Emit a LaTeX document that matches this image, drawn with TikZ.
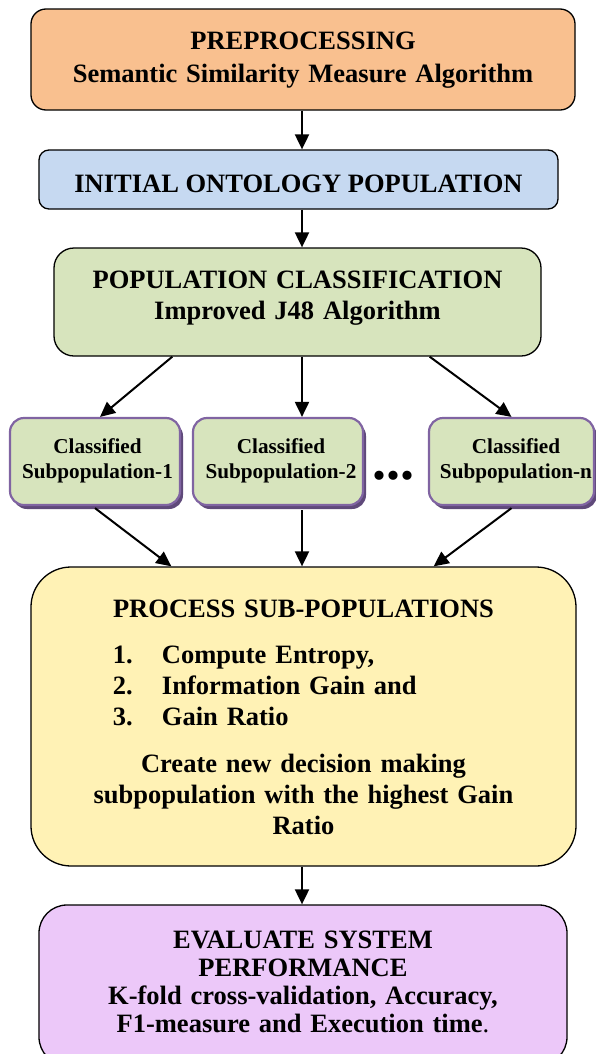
\documentclass[tikz,border=0pt]{standalone}
\usepackage{fontspec}
\setmainfont{Liberation Serif}
\usetikzlibrary{arrows.meta,shadows,calc}
\definecolor{orangeF}{HTML}{F9C08F}
\definecolor{blueF}{HTML}{C6D9F1}
\definecolor{greenF}{HTML}{D7E4BD}
\definecolor{yellowF}{HTML}{FFF2B5}
\definecolor{violetF}{HTML}{ECC8F9}
\definecolor{purpleB}{HTML}{8064A2}
\definecolor{purpleS}{HTML}{5F497A}
\begin{document}
\begin{tikzpicture}[x=1bp,y=-1bp,
  box/.style={draw=black, line width=1.3bp, rectangle, inner sep=0pt},
  mainfont/.style={font=\bfseries\fontsize{26.5bp}{#1}\selectfont},
  subbox/.style={draw=purpleB, line width=2.2bp, fill=greenF, rounded corners=14bp,
    minimum width=170bp, minimum height=87bp, inner sep=0pt, text width=165bp, align=center,
    font=\bfseries\fontsize{21.2bp}{25bp}\selectfont, text height=0bp, text depth=17bp,
    general shadow={fill=purpleS, shadow xshift=3bp, shadow yshift=-4bp}},
  arr/.style={line width=2bp, -{Triangle[length=15bp,width=14bp]}}
]
\useasboundingbox (0,0) rectangle (596,1054);
\coordinate (spine) at (302,0);

\node[box, mainfont=33bp, fill=orangeF, rounded corners=15bp, minimum width=544bp, minimum height=101bp,
  text width=530bp, align=center, text height=0bp, text depth=21bp] (box1) at (303,59.5)
  {PREPROCESSING\\Semantic Similarity Measure Algorithm};

\node[box, mainfont=31bp, fill=blueF, rounded corners=10bp, minimum width=519bp, minimum height=59bp,
  text height=25bp, text depth=0bp] (box2) at (298.5,179.5)
  {INITIAL ONTOLOGY POPULATION};

\node[box, mainfont=31bp, fill=greenF, rounded corners=20bp, minimum width=487bp, minimum height=108bp,
  text width=470bp, align=center, text height=0bp, text depth=28bp] (box3) at (297.5,302)
  {POPULATION CLASSIFICATION\\Improved J48 Algorithm};

\node[subbox] (suba) at (95,461.5) {\hspace*{5bp}Classified\\\hspace*{5bp}Subpopulation-1};
\node[subbox] (subb) at (278,461.5) {\hspace*{6bp}Classified\\\hspace*{6bp}Subpopulation-2};
\node[subbox, minimum width=165bp] (subc) at (511.5,461.5) {\hspace*{9bp}Classified\\\hspace*{9bp}Subpopulation-n};

\node[font=\bfseries\fontsize{56bp}{56bp}\selectfont, inner sep=0pt, anchor=base] (dots) at (393,479.5) {...};

\node[box, mainfont=31bp, fill=yellowF, rounded corners=40bp, minimum width=545bp, minimum height=299bp,
  text width=500bp, text height=0bp, text depth=199bp] (box5) at (303.5,716.5)
  {{\centering PROCESS SUB-POPULATIONS\par}
   \vspace{15bp}
   {\raggedright
   \hspace*{59.5bp}\makebox[49bp][l]{1.}Compute Entropy,\par
   \hspace*{59.5bp}\makebox[49bp][l]{2.}Information Gain and\par
   \hspace*{59.5bp}\makebox[49bp][l]{3.}Gain Ratio\par}
   \vspace{16bp}
   {\centering Create new decision making\\subpopulation with the highest Gain\\Ratio\par}};

\node[box, mainfont=28bp, fill=violetF, rounded corners=28bp, minimum width=528bp, minimum height=160bp,
  text width=515bp, align=center, text height=0bp, text depth=73bp] (box6) at (303,985)
  {EVALUATE SYSTEM\\PERFORMANCE\\K-fold cross-validation, Accuracy,\\F1-measure and Execution time{\mdseries.}};

\draw[arr] (box1.south -| spine) -- (box2.north -| spine);
\draw[arr] (box2.south -| spine) -- (box3.north -| spine);
\draw[arr] ($(box3.south west)+(119,0)$) -- ($(suba.north)+(5,0)$);
\draw[arr] (box3.south -| spine) -- (subb.north -| spine);
\draw[arr] ($(box3.south east)+(-112,0)$) -- (subc.north);
\draw[arr] ($(suba.south)+(0,2)$) -- ($(box5.north west)+(141,0)$);
\draw[arr] ($(subb.south -| spine)+(0,4)$) -- (box5.north -| spine);
\draw[arr] ($(subc.south)+(0,2)$) -- ($(box5.north east)+(-143,0)$);
\draw[arr] (box5.south -| spine) -- (box6.north -| spine);
\end{tikzpicture}
\end{document}
